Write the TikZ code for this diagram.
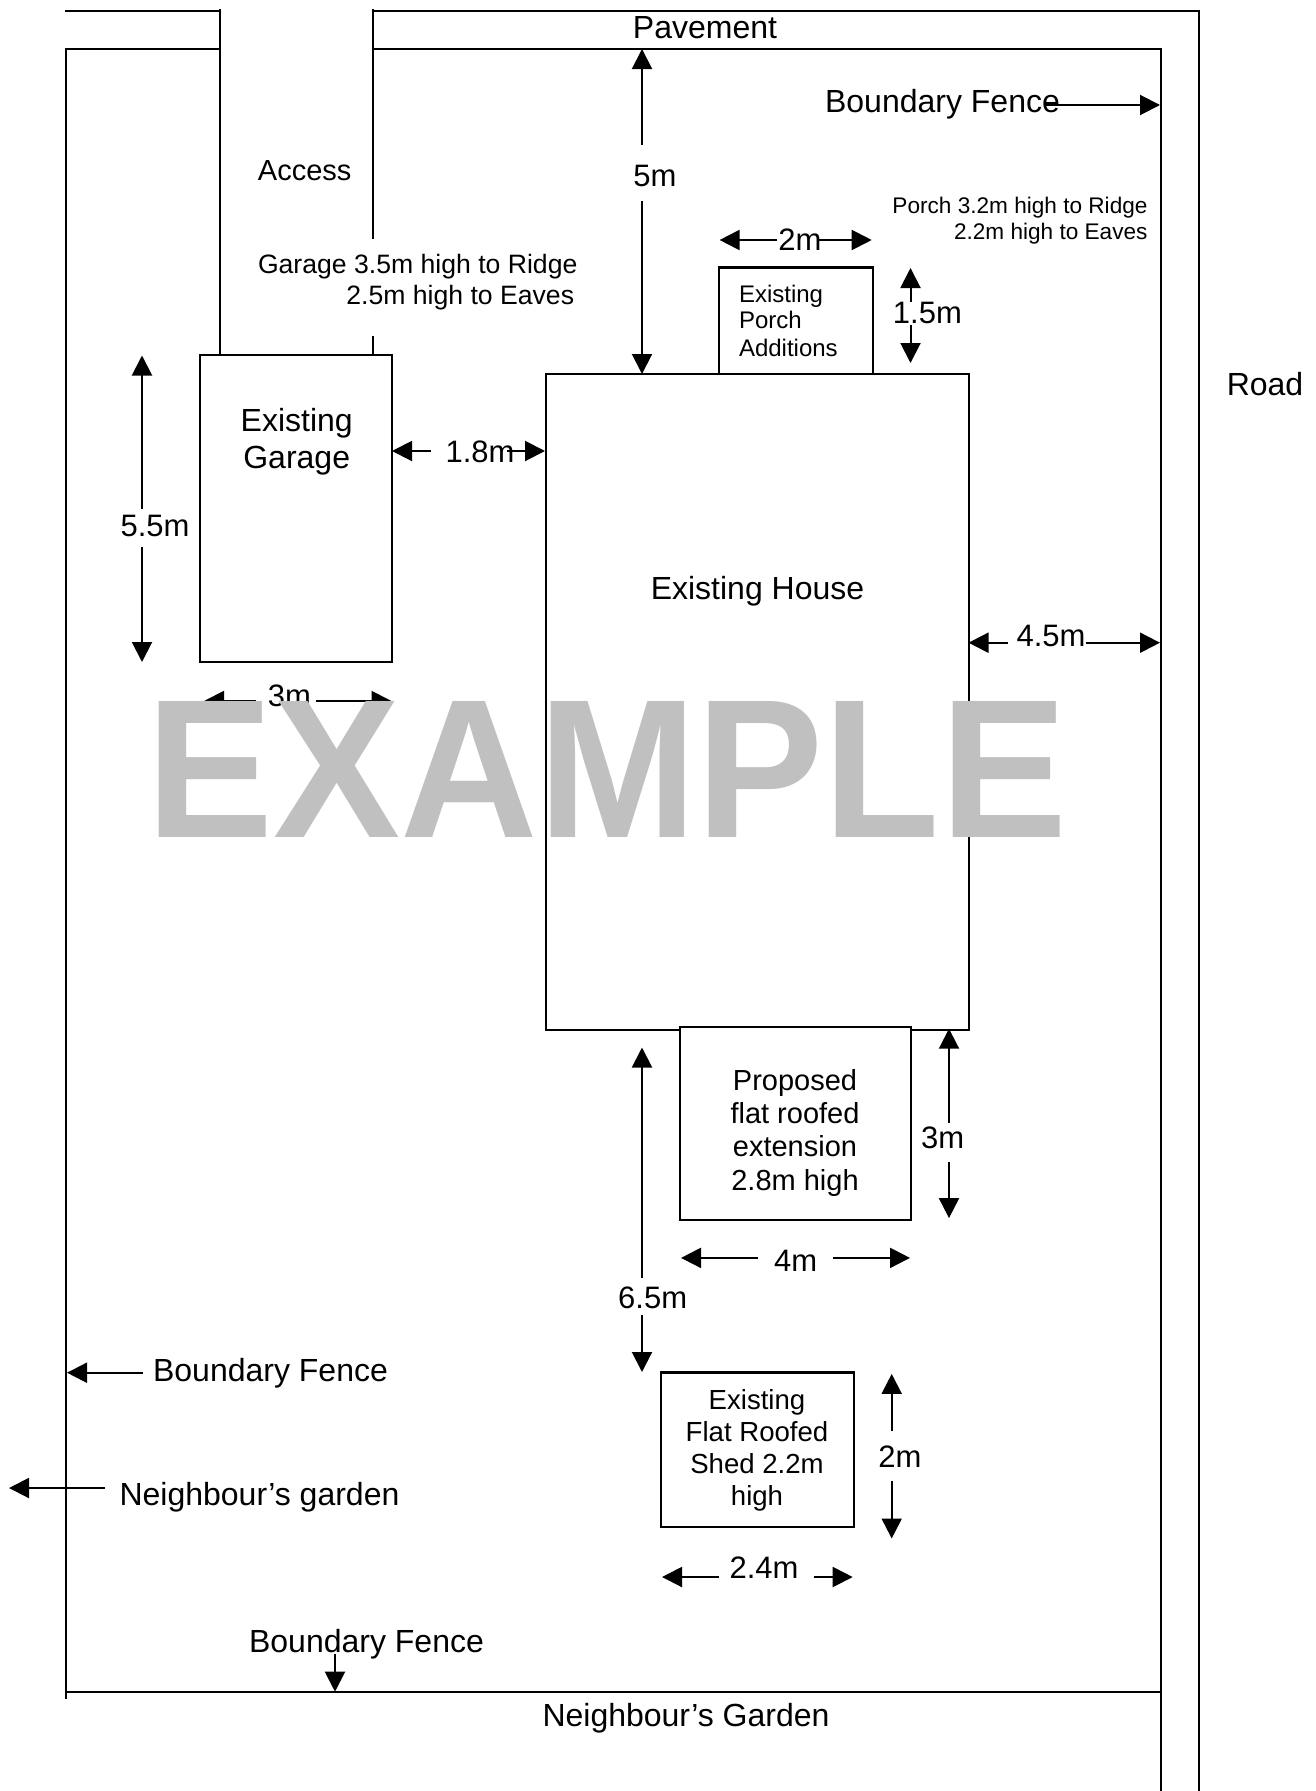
\documentclass[tikz,border=0pt]{standalone}
\usepackage{fontspec}
\setmainfont{Liberation Sans}
\usetikzlibrary{arrows.meta}
\newcommand\fsz[1]{\fontsize{#1}{#1}\selectfont}
\definecolor{wm}{HTML}{C0C0C0}
\tikzset{
  wall/.style={line width=2.2pt,line cap=butt},
  box/.style={draw=black,fill=white,line width=2.2pt,inner sep=0pt,outer sep=0pt},
  tx/.style={inner sep=0pt,outer sep=0pt,anchor=base,text=black},
  big/.style={tx,font=\fsz{32}},
  dimtx/.style={tx,font=\fsz{31}},
  mid/.style={tx,font=\fsz{29}},
  gar/.style={tx,font=\fsz{26.6},anchor=base west},
  por/.style={tx,font=\fsz{22.6},anchor=base east},
  pad/.style={tx,font=\fsz{24},anchor=base west},
  shd/.style={tx,font=\fsz{27.6}},
  ar/.style={line width=2pt,-{Triangle[length=20pt,width=20pt]}},
}
\begin{document}
\begin{tikzpicture}[x=1pt,y=-1pt]
\useasboundingbox (0,0) rectangle (1316,1791);
\fill[white] (0,0) rectangle (1316,1791);
% site lines
\coordinate (tl) at (65,11); \coordinate (acL) at (220,9); \coordinate (acLb) at (220,355);
\coordinate (acLt) at (220,11); \coordinate (acLm) at (220,49);
\coordinate (acR) at (373,9); \coordinate (acRg1) at (373,239); \coordinate (acRg2) at (373,336); \coordinate (acRb) at (373,355);
\coordinate (acRt) at (373,11); \coordinate (acRm) at (373,49);
\coordinate (rdT) at (1198.6,11); \coordinate (rdB) at (1198.6,1791);
\coordinate (ml) at (65,49); \coordinate (lfT) at (65.8,48); \coordinate (lfB) at (65.8,1699);
\coordinate (rfT) at (1160.7,49); \coordinate (rfB) at (1160.7,1791);
\coordinate (bfL) at (65.8,1692); \coordinate (bfR) at (1160.7,1692);
\draw[wall] (tl) -- (acLt);
\draw[wall] (ml) -- (acLm);
\draw[wall] (acL) -- (acLb);
\draw[wall] (acR) -- (acRg1);
\draw[wall] (acRg2) -- (acRb);
\draw[wall] (acRt) -- (rdT) -- (rdB);
\draw[wall] (acRm) -- (rfT) -- (rfB);
\draw[wall] (lfT) -- (lfB);
\draw[wall] (bfL) -- (bfR);
% buildings
\node[box,minimum width=192pt,minimum height=307pt] (garage) at (296,508.5) {};
\node[box,minimum width=423pt,minimum height=656pt] (house) at (757.5,702) {};
\node[box,minimum width=154pt,minimum height=106.5pt] (porch) at (795.7,320.7) {};
\node[box,minimum width=231pt,minimum height=192.5pt] (ext) at (795.5,1123.45) {};
\node[box,minimum width=193pt,minimum height=154.6pt] (shed) at (757.2,1449.7) {};
% labels
\node[big] (lPave) at (705,38.7) {Pavement};
\node[big] (lBF1) at (942.5,112) {Boundary Fence};
\node[tx,font=\fsz{29}] (lAcc) at (304.7,180.6) {Access};
\node[gar] (lG1) at (258,273.6) {Garage 3.5m high to Ridge};
\node[gar] (lG2) at (346.4,304.6) {2.5m high to Eaves};
\node[por] (lP1) at (1147.5,213.5) {Porch 3.2m high to Ridge};
\node[por] (lP2) at (1147.5,239) {2.2m high to Eaves};
\node[big] (lEG1) at (296.7,431.7) {Existing};
\node[big] (lEG2) at (296.7,468) {Garage};
\node[big] (lEH) at (757.5,599.5) {Existing House};
\node[big] (lRoad) at (1265,395.3) {Road};
\node[pad] (lEP1) at (739,302) {Existing};
\node[pad] (lEP2) at (739,328) {Porch};
\node[pad] (lEP3) at (739,356.7) {Additions};
\node[mid] (lX1) at (795,1090) {Proposed};
\node[mid] (lX2) at (795,1123.6) {flat roofed};
\node[mid] (lX3) at (795,1156.9) {extension};
\node[mid] (lX4) at (795,1190.2) {2.8m high};
\node[shd] (lS1) at (757,1409.5) {Existing};
\node[shd] (lS2) at (757,1441.3) {Flat Roofed};
\node[shd] (lS3) at (757,1473.8) {Shed 2.2m};
\node[shd] (lS4) at (757,1505.2) {high};
\node[big] (lBF2) at (270.5,1381.5) {Boundary Fence};
\node[big] (lNg) at (259.5,1505) {Neighbour’s garden};
\node[big] (lBF3) at (366.5,1652) {Boundary Fence};
\node[big] (lNG) at (686,1726) {Neighbour’s Garden};
\node[dimtx] (d5) at (655,186.4) {5m};
\node[dimtx] (d2a) at (800,250) {2m};
\node[dimtx] (d15) at (927.4,323) {1.5m};
\node[dimtx] (d55) at (155,536.8) {5.5m};
\node[dimtx] (d18) at (480,462) {1.8m};
\node[dimtx] (d45) at (1051,646) {4.5m};
\node[dimtx] (d3a) at (289.4,706) {3m};
\node[dimtx] (d3b) at (942.7,1148.5) {3m};
\node[dimtx] (d4) at (795.7,1271) {4m};
\node[dimtx] (d65) at (652.7,1308) {6.5m};
\node[dimtx] (d2b) at (900,1467.7) {2m};
\node[dimtx] (d24) at (764,1578.5) {2.4m};
% arrow ends
\coordinate (a5a) at (642,144.7); \coordinate (a5t) at (642,49);
\coordinate (a5b) at (642,201); \coordinate (a5h) at (642,374);
\coordinate (a2l) at (777,240); \coordinate (a2L) at (719.6,240);
\coordinate (a2r) at (819,240); \coordinate (a2R) at (871.7,240);
\coordinate (a15u) at (910.5,302); \coordinate (a15U) at (910.5,268);
\coordinate (a15d) at (910.5,324.5); \coordinate (a15D) at (910.5,363);
\coordinate (a55u) at (142,509); \coordinate (a55U) at (142,355.5);
\coordinate (a55d) at (142,546.5); \coordinate (a55D) at (142,662);
\coordinate (a18l) at (431,451); \coordinate (a18L) at (392,451);
\coordinate (a18r) at (507,451); \coordinate (a18R) at (545,451);
\coordinate (a45l) at (1007.5,642.7); \coordinate (a45L) at (968.5,642.7);
\coordinate (a45r) at (1086,642.7); \coordinate (a45R) at (1160,642.7);
\coordinate (a3l) at (256,701); \coordinate (a3L) at (204,701);
\coordinate (a3r) at (315.6,701); \coordinate (a3R) at (391.5,701);
\coordinate (a3bu) at (949,1123.2); \coordinate (a3bU) at (949,1028.7);
\coordinate (a3bd) at (949,1161.5); \coordinate (a3bD) at (949,1218.1);
\coordinate (a4l) at (757.7,1257.9); \coordinate (a4L) at (681,1257.9);
\coordinate (a4r) at (833,1257.9); \coordinate (a4R) at (910,1257.9);
\coordinate (a65u) at (642,1277.5); \coordinate (a65U) at (642,1047.5);
\coordinate (a65d) at (642,1315); \coordinate (a65D) at (642,1372);
\coordinate (a2bu) at (891.7,1431.3); \coordinate (a2bU) at (891.7,1373.9);
\coordinate (a2bd) at (891.7,1481); \coordinate (a2bD) at (891.7,1538.5);
\coordinate (a24l) at (719,1577); \coordinate (a24L) at (662,1577);
\coordinate (a24r) at (814,1577); \coordinate (a24R) at (852.7,1577);
\coordinate (bf1s) at (1045,105); \coordinate (bf1e) at (1160,105);
\coordinate (bf2s) at (143,1372.7); \coordinate (bf2e) at (67,1372.7);
\coordinate (ngs) at (104.5,1488); \coordinate (nge) at (9,1488);
\coordinate (bf3s) at (335,1654); \coordinate (bf3e) at (335,1691.7);
\foreach \s/\e in {a5a/a5t,a5b/a5h,a2l/a2L,a2r/a2R,a15u/a15U,a15d/a15D,a55u/a55U,a55d/a55D,
  a18l/a18L,a18r/a18R,a45l/a45L,a45r/a45R,a3l/a3L,a3r/a3R,a3bu/a3bU,a3bd/a3bD,a4l/a4L,a4r/a4R,
  a65u/a65U,a65d/a65D,a2bu/a2bU,a2bd/a2bD,a24l/a24L,a24r/a24R,bf1s/bf1e,bf2s/bf2e,ngs/nge,bf3s/bf3e}
  \draw[ar] (\s) -- (\e);
% watermark
\node[tx,anchor=base west,font=\fsz{192}\bfseries,text=wm,xscale=0.992,yscale=1.03,transform shape] (wmk) at (146.5,837.7) {EXAMPLE};
\end{tikzpicture}
\end{document}
